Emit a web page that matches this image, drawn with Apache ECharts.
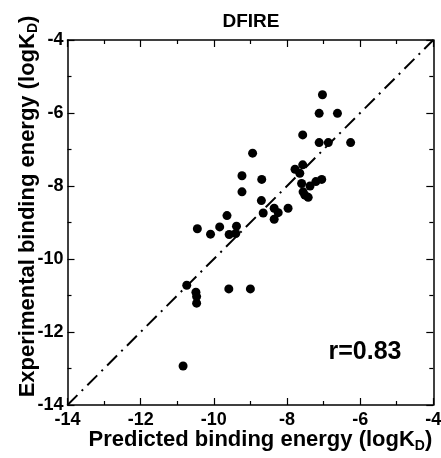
<!DOCTYPE html>
<html>
<head>
<meta charset="utf-8">
<script src="https://cdn.jsdelivr.net/npm/echarts@6/dist/echarts.min.js"></script>
<style>
  html, body { margin: 0; padding: 0; background: #fff; }
  #chart { width: 441px; height: 458px; }
</style>
</head>
<body>
<div id="chart"></div>
<script>
// predicted vs experimental binding energy (logKD)
var predicted = [-7.03, -7.12, -6.62, -7.57, -7.12, -6.87, -6.26, -8.94, -9.23, -8.69,
    -9.23, -7.57, -7.78, -7.65, -7.60, -7.37, -7.21, -7.05, -7.56, -7.51,
    -7.42, -7.97, -8.70, -8.65, -8.35, -8.24, -8.35, -9.64, -10.45, -10.09,
    -9.84, -9.38, -9.58, -9.40, -10.74, -10.49, -10.47, -10.47, -9.59, -9.00,
    -10.84];
var experimental = [-5.50, -6.01, -6.01, -6.60, -6.81, -6.81, -6.81, -7.10, -7.72, -7.82,
    -8.16, -7.42, -7.54, -7.65, -7.93, -8.00, -7.88, -7.82, -8.16, -8.25,
    -8.31, -8.61, -8.40, -8.74, -8.61, -8.73, -8.91, -8.81, -9.17, -9.32,
    -9.12, -9.10, -9.33, -9.30, -10.72, -10.91, -11.03, -11.21, -10.82, -10.82,
    -12.93];
var diagX = [-14, -4];
var diagY = [-14, -4];
var tickLabels = ['-14', '-12', '-10', '-8', '-6', '-4'];

var font = '"Liberation Sans", Arial, sans-serif';

var points = predicted.map(function (x, i) { return [x, experimental[i]]; });
var diagonal = diagX.map(function (x, i) { return [x, diagY[i]]; });

function labelFmt(v) {
    var s = String(v);
    return tickLabels.indexOf(s) >= 0 ? s : '';
}

function makeAxis(extra) {
    var ax = {
        type: 'value',
        min: -14,
        max: -4,
        interval: 2,
        splitLine: { show: false },
        axisLine: { show: true, onZero: false, lineStyle: { color: '#000', width: 1.5 } },
        axisTick: { show: true, inside: true, length: 7, lineStyle: { color: '#000', width: 1.2 } },
        minorTick: { show: true, splitNumber: 2, length: 4, lineStyle: { color: '#000', width: 1.2 } },
        axisLabel: { show: false }
    };
    for (var k in extra) ax[k] = extra[k];
    return ax;
}

function nameStyle(pad) {
    return {
        color: '#000',
        fontSize: 22,
        fontWeight: 'bold',
        fontFamily: font,
        lineHeight: 26,
        padding: pad,
        rich: {
            sub: { fontSize: 14, fontWeight: 'bold', fontFamily: font, color: '#000', verticalAlign: 'bottom', lineHeight: 14 }
        }
    };
}

var labelStyle = {
    show: true,
    color: '#000',
    fontSize: 18,
    fontWeight: 'bold',
    fontFamily: font,
    formatter: labelFmt
};

var myChart = echarts.init(document.getElementById('chart'));

var option = {
    backgroundColor: '#fff',
    animation: false,
    grid: { left: 67.5, right: 7.7, top: 40, bottom: 53, containLabel: false, outerBoundsMode: 'none' },
    xAxis: [
        makeAxis({
            position: 'bottom',
            name: 'Predicted binding energy (logK{sub|D})',
            nameLocation: 'middle',
            nameGap: 22,
            nameMoveOverlap: false,
            nameTextStyle: nameStyle([0, 0, 0, 20]),
            axisLabel: Object.assign({ margin: 6 }, labelStyle)
        }),
        makeAxis({ position: 'top' })
    ],
    yAxis: [
        makeAxis({
            position: 'left',
            name: 'Experimental binding energy (logK{sub|D})',
            nameLocation: 'middle',
            nameGap: 27,
            nameMoveOverlap: false,
            nameTextStyle: nameStyle([0, 0, 0, 32]),
            axisLabel: Object.assign({ margin: 4 }, labelStyle)
        }),
        makeAxis({ position: 'right' })
    ],
    graphic: [
        {
            type: 'text', x: 251, y: 22,
            style: { text: 'DFIRE', align: 'center', verticalAlign: 'middle', fill: '#000',
                fontSize: 19, fontWeight: 'bold', fontFamily: font }
        },
        {
            type: 'text', x: 365, y: 352,
            style: { text: 'r=0.83', align: 'center', verticalAlign: 'middle', fill: '#000',
                fontSize: 25, fontWeight: 'bold', fontFamily: font }
        }
    ],
    series: [
        {
            type: 'line',
            data: diagonal,
            symbol: 'none',
            silent: true,
            lineStyle: { color: '#000', width: 2, type: [14, 6, 2, 6] }
        },
        {
            type: 'scatter',
            data: points,
            symbol: 'circle',
            symbolSize: 9,
            itemStyle: { color: '#000', opacity: 1 }
        }
    ]
};

myChart.setOption(option);
</script>
</body>
</html>
